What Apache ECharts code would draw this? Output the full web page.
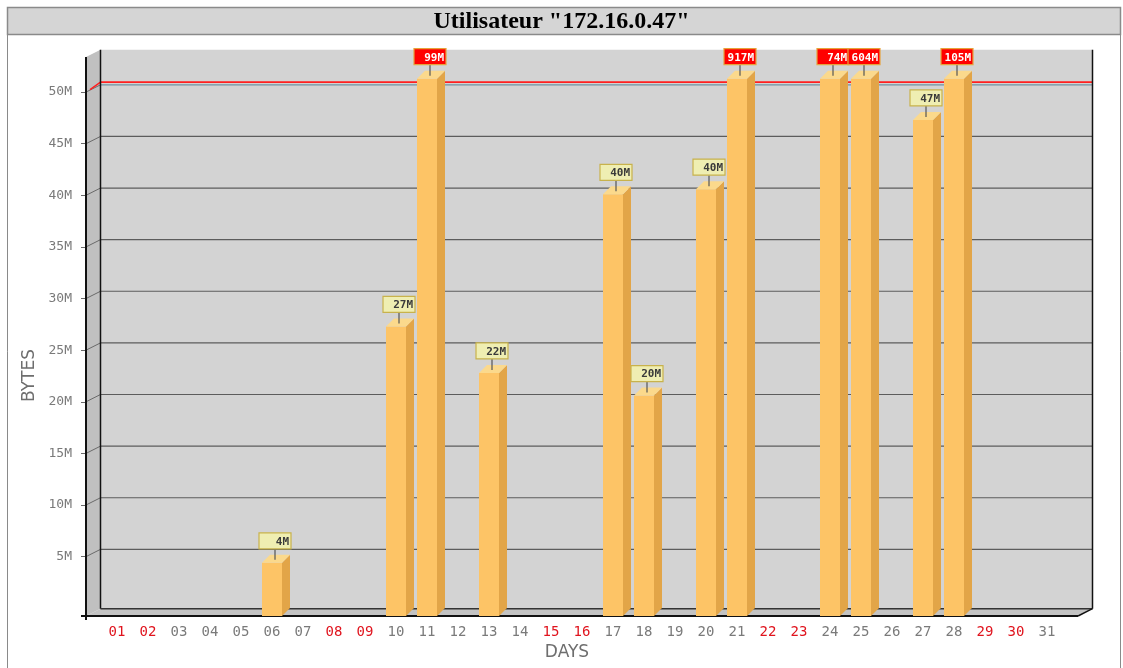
<!DOCTYPE html>
<html><head><meta charset="utf-8">
<script src="https://cdn.jsdelivr.net/npm/echarts@6/dist/echarts.min.js"></script>
<style>html,body{margin:0;padding:0;background:#fff}#c{width:1123px;height:668px}</style>
</head><body><div id="c"></div>
<script>
// ---- data ----
const chartTitle = 'Utilisateur "172.16.0.47"';
const days = ['01','02','03','04','05','06','07','08','09','10','11','12','13','14','15','16','17','18','19','20','21','22','23','24','25','26','27','28','29','30','31'];
const weekendDays = ['01','02','08','09','15','16','22','23','29','30'];
const bytesPerDay = [0,0,0,0,0,4.4e6,0,0,0,27.3e6,99e6,0,22.8e6,0,0,0,40.1e6,20.6e6,0,40.6e6,917e6,0,0,74e6,604e6,0,47.3e6,105e6,0,0,0];
const yTickValues = [5e6,10e6,15e6,20e6,25e6,30e6,35e6,40e6,45e6,50e6];
const limitBytes = 50.25e6;   // red limit line
const capBytes = 51.3e6;      // bars above the limit are drawn up to here
const yFloor = -0.75e6, yTop = 53.4e6;
const xMin = 0, xMax = 32;

// ---- style ----
const D = [14.5, -7.3];          // wall depth offset
const BAR_W = 20, BAR_DX = 8, BAR_DY = -8;

const barData = [];
days.forEach((d, i) => { if (bytesPerDay[i] > 0) barData.push([Number(d), bytesPerDay[i]]); });

function back(p) { return [p[0] + D[0], p[1] + D[1]]; }
function line(a, b, color, w) {
  return { type: 'line', shape: { x1: a[0], y1: a[1], x2: b[0], y2: b[1] }, style: { stroke: color, lineWidth: w || 1 } };
}

function renderFrame(params, api) {
  const p00 = api.coord([xMin, yFloor]);
  const p10 = api.coord([xMax, yFloor]);
  const p01 = api.coord([xMin, yTop]);
  const bl = back(p00), br = back(p10), tl = back(p01);
  const ch = [];
  ch.push({ type: 'rect', shape: { x: bl[0], y: tl[1], width: br[0] - bl[0], height: bl[1] - tl[1] }, style: { fill: '#d3d3d3' } });
  ch.push({ type: 'polygon', shape: { points: [p01, tl, bl, p00] }, style: { fill: '#c0c0c0' } });
  ch.push({ type: 'polygon', shape: { points: [p00, bl, br, p10] }, style: { fill: '#c3c3c3' } });
  yTickValues.forEach((v, i) => {
    const f = api.coord([xMin, v]);
    const b = back(f);
    const last = i === yTickValues.length - 1;
    ch.push(line(b, [br[0], b[1]], last ? '#6f93a3' : '#5c5c5c', 1.2));
    ch.push(line(f, b, '#6a6a6a', 1));
  });
  const lf = api.coord([xMin, limitBytes]);
  const lb = back(lf);
  ch.push(line([lf[0] + 4, lf[1]], lb, '#ff2020', 1.5));
  ch.push(line(lb, [br[0], lb[1]], '#ff2020', 1.8));
  ch.push(line(tl, bl, '#111', 1.5));
  ch.push(line([br[0], tl[1]], br, '#111', 1.5));
  ch.push(line(bl, br, '#333', 1.5));
  ch.push(line(p10, br, '#111', 1.5));
  ch.push(line(p01, [p00[0], p00[1] + 4], '#111', 2));
  ch.push(line([p00[0] - 5, p00[1]], p10, '#111', 2));
  return { type: 'group', children: ch };
}

function renderBar(params, api) {
  const day = api.value(0), v = api.value(1);
  const over = v > limitBytes;
  const shown = Math.min(v, capBytes);
  const base = api.coord([day, yFloor]);
  const top = api.coord([day, shown]);
  const x0 = base[0] - BAR_W / 2, x1 = base[0] + BAR_W / 2;
  const yt = top[1], yb = base[1];
  const cx = base[0] + 3;
  const boxB = yt - 14, boxH = 16, boxW = 32;
  const label = Math.floor(v / 1e6) + 'M';
  return { type: 'group', children: [
    { type: 'rect', shape: { x: x0, y: yt, width: BAR_W, height: yb - yt }, style: { fill: '#fdc466' } },
    { type: 'polygon', shape: { points: [[x1, yt], [x1 + BAR_DX, yt + BAR_DY], [x1 + BAR_DX, yb + BAR_DY], [x1, yb]] }, style: { fill: '#e2a548' } },
    { type: 'polygon', shape: { points: [[x0, yt], [x0 + BAR_DX, yt + BAR_DY], [x1 + BAR_DX, yt + BAR_DY], [x1, yt]] }, style: { fill: '#fbd98c' } },
    line([cx, boxB], [cx, yt - 3], '#555', 1.2),
    { type: 'rect', shape: { x: cx - boxW / 2, y: boxB - boxH, width: boxW, height: boxH },
      style: { fill: over ? '#ff0000' : '#efeeb2', stroke: over ? '#e6a23c' : '#c8b24c', lineWidth: 1.2 } },
    { type: 'text', x: cx + boxW / 2 - 2, y: boxB - boxH / 2 + 1,
      style: { text: label, align: 'right', verticalAlign: 'middle', fill: over ? '#fff' : '#3a3a3a',
        font: 'bold 11px "DejaVu Sans Mono"' } }
  ] };
}

const chart = echarts.init(document.getElementById('c'), null, { renderer: 'canvas' });
chart.setOption({
  animation: false,
  backgroundColor: '#fff',
  graphic: [
    { type: 'rect', z: -10, shape: { x: 7.5, y: 34.5, width: 1113, height: 640 }, style: { fill: '#fff', stroke: '#8a8a8a', lineWidth: 1 } },
    { type: 'rect', z: -10, shape: { x: 7.5, y: 7.5, width: 1113, height: 27 }, style: { fill: '#d5d5d5', stroke: '#8a8a8a', lineWidth: 1.5 } }
  ],
  title: { text: chartTitle, left: 'center', top: 5,
    textStyle: { fontFamily: 'Liberation Serif', fontWeight: 'bold', fontSize: 24, color: '#000' } },
  grid: { left: 86, right: 45, top: 57, bottom: 52 },
  xAxis: {
    type: 'value', min: xMin, max: xMax,
    axisLine: { show: false }, splitLine: { show: false },
    axisTick: { show: true, customValues: days.map(Number), length: 5, lineStyle: { color: '#777' } },
    axisLabel: { customValues: days.map(Number), margin: 9,
      formatter: v => { const s = String(v).padStart(2, '0'); return weekendDays.includes(s) ? '{we|' + s + '}' : '{wd|' + s + '}'; },
      rich: { we: { color: '#e0141e', fontFamily: 'DejaVu Sans Mono', fontSize: 14 },
              wd: { color: '#7a7a7a', fontFamily: 'DejaVu Sans Mono', fontSize: 14 } } },
    name: 'DAYS', nameLocation: 'middle', nameGap: 28,
    nameTextStyle: { color: '#6e6e6e', fontFamily: 'DejaVu Sans', fontSize: 17, padding: [0, 30, 0, 0] }
  },
  yAxis: {
    type: 'value', min: yFloor, max: yTop,
    axisLine: { show: false }, splitLine: { show: false },
    axisTick: { show: true, customValues: yTickValues, length: 5, lineStyle: { color: '#6a6a6a' } },
    axisLabel: { customValues: yTickValues, margin: 14, color: '#7a7a7a', fontFamily: 'DejaVu Sans Mono', fontSize: 13,
      formatter: v => Math.round(v / 1e6) + 'M' },
    name: 'BYTES', nameLocation: 'middle', nameGap: 47,
    nameTextStyle: { color: '#6e6e6e', fontFamily: 'DejaVu Sans', fontSize: 17, padding: [0, 78, 0, 0] }
  },
  series: [
    { type: 'custom', name: 'frame', silent: true, clip: false, z: 1, data: [[xMin, yFloor]], renderItem: renderFrame },
    { type: 'custom', name: 'bytes', silent: true, clip: false, z: 3, data: barData, renderItem: renderBar }
  ]
});
</script></body></html>
